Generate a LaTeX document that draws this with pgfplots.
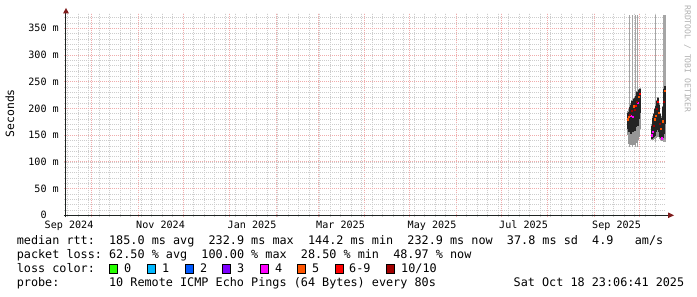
\documentclass[border=0pt]{standalone}
\usepackage{fontspec}
\setmainfont{DejaVu Sans Mono}
\setmonofont{DejaVu Sans Mono}
\usepackage{pgfplots}
\usepackage{pgfplotstable}
\pgfplotsset{compat=1.18}
\frenchspacing

\definecolor{minorgrid}{RGB}{205,205,205}
\definecolor{majorgrid}{RGB}{240,172,172}
\definecolor{axiscol}{RGB}{30,36,34}
\definecolor{arrowcol}{RGB}{127,29,29}
\definecolor{talllines}{RGB}{165,165,165}
\definecolor{smokelight}{RGB}{150,150,150}
\definecolor{smokedark}{RGB}{36,36,36}
\definecolor{loss0}{HTML}{26FF00}
\definecolor{loss1}{HTML}{00B8FF}
\definecolor{loss2}{HTML}{0059FF}
\definecolor{loss3}{HTML}{7E00FF}
\definecolor{loss4}{HTML}{FF00FF}
\definecolor{loss5}{HTML}{FF5500}
\definecolor{loss6}{HTML}{FF0000}
\definecolor{loss10}{HTML}{A10000}
\definecolor{wmark}{RGB}{176,176,176}

\newcommand{\fA}{\fontsize{10.1}{12}\selectfont}
\newcommand{\fL}{\fontsize{11.8}{14}\selectfont}
\newcommand{\fW}{\fontsize{8.1}{10}\selectfont}

% x = days since 1 Sep 2024
\pgfplotstableread{
x lo h
388.29 128 247
390.29 128 247
392.29 128 247
393.63 128 247
405.63 137 238
410.96 137 238
411.63 137 238
412.29 137 238
}\talltab

\pgfplotstableread{
x lo h
387.63 150 45
388.29 134 64
388.96 138 67
389.63 132 78
390.29 132 83
390.96 133 77
391.63 132 88
392.29 132 90
392.96 135 91
393.63 135 97
394.29 140 90
394.96 147 89
395.63 162 76
403.63 140 30
404.29 140 45
404.96 142 50
405.63 142 58
406.29 144 62
406.96 147 69
407.63 150 72
408.29 147 63
408.96 142 50
409.63 140 46
410.29 139 37
410.96 140 65
411.63 142 96
412.29 142 100
}\lighttab

\pgfplotstableread{
x lo h
387.63 162 30
388.29 156 38
388.96 160 42
389.63 153 54
390.29 158 56
390.96 155 53
391.63 160 58
392.29 158 62
392.96 165 59
393.63 170 60
394.29 168 60
394.96 180 54
395.63 192 44
403.63 143 24
404.29 145 38
404.96 147 42
405.63 149 50
406.29 155 49
406.96 160 54
407.63 164 56
408.29 155 52
408.96 147 42
409.63 145 38
410.29 141 32
410.96 145 58
411.63 152 85
412.29 170 72
}\darktab

\pgfplotstableread{
x y
389.63 186
390.96 185
394.29 210
403.63 150
404.29 156
410.29 144.2
}\medfour

\pgfplotstableread{
x y
387.63 180
388.29 184
391.63 204
394.96 222
405.63 180
406.29 187
408.29 192
409.63 162
410.96 176
412.29 232.9
}\medfive

\pgfplotstableread{
x y
392.96 205
395.63 228
407.63 212
}\medsix

\pgfplotstableread{
x y
388.96 188
390.29 195
392.29 198
393.63 212
404.96 168
406.96 200
408.96 172
411.63 212
}\medten

\begin{document}
\begin{tikzpicture}[x=1pt,y=1pt]
\useasboundingbox (0pt,0pt) rectangle (697pt,297pt);
\begin{axis}[
  at={(66pt,81.7pt)}, anchor=south west,
  scale only axis, width=600pt, height=202pt,
  xmin=12.96, xmax=412.96, ymin=0, ymax=378,
  axis lines*=left,
  separate axis lines,
  axis line style={draw=axiscol, line width=1pt},
  x axis line style={shorten >=-2.5pt, shorten <=-2pt},
  y axis line style={shorten <=-2pt},
  xtick={30,61,91,122,153,181,212,242,273,303,334,365,395},
  xticklabels={{},{},{},{},{},{},{},{},{},{},{},{},{}},
  minor xtick={14,21,...,406},
  extra x ticks={15,76,137,196,257,318,380},
  extra x tick labels={Sep 2024,Nov 2024,Jan 2025,Mar 2025,May 2025,Jul 2025,Sep 2025},
  extra x tick style={grid=none, major tick length=0pt},
  ytick={0,50,...,350},
  yticklabels={0\hphantom{~m},50~m,100~m,150~m,200~m,250~m,300~m,350~m},
  minor ytick={10,20,...,370},
  grid=both,
  major grid style={draw=majorgrid, line width=0.75pt, dash pattern=on 1pt off 1pt},
  minor grid style={draw=minorgrid, line width=0.65pt, dash pattern=on 1pt off 1pt},
  tick align=outside,
  major tick length=2pt, minor tick length=2pt,
  major tick style={draw=majorgrid, line width=0.75pt},
  minor tick style={draw=minorgrid, line width=0.65pt},
  ticklabel style={font=\fA, inner sep=0pt},
  xticklabel style={anchor=base, yshift=-13.5pt},
  yticklabel style={anchor=east, xshift=-5pt},
  ylabel={Seconds},
  every axis y label/.style={at={(rel axis cs:0,0.505)}, xshift=-56pt, rotate=90, anchor=center, font=\fontsize{11.4}{13}\selectfont},
]
\addplot[talllines, line width=0.9pt, quiver={u=0, v=\thisrow{h}}] table[x=x, y=lo] {\talltab};
\addplot[smokelight, line width=1.15pt, quiver={u=0, v=\thisrow{h}}] table[x=x, y=lo] {\lighttab};
\addplot[smokedark, line width=1.15pt, quiver={u=0, v=\thisrow{h}}] table[x=x, y=lo] {\darktab};
\addplot[only marks, mark=square*, mark size=0.6pt, color=loss4] table[x=x, y=y] {\medfour};
\addplot[only marks, mark=square*, mark size=0.6pt, color=loss5] table[x=x, y=y] {\medfive};
\addplot[only marks, mark=square*, mark size=0.6pt, color=loss6] table[x=x, y=y] {\medsix};
\addplot[only marks, mark=square*, mark size=0.6pt, color=loss10] table[x=x, y=y] {\medten};
\end{axis}

% axis arrow heads
\fill[arrowcol] (668pt,84.6pt) -- (674pt,81.7pt) -- (668pt,78.8pt) -- cycle;
\fill[arrowcol] (63.1pt,283.7pt) -- (66pt,289pt) -- (68.9pt,283.7pt) -- cycle;

\node[rotate=-90, font=\fW, text=wmark, inner sep=0pt] at (687.5pt,238pt) {RRDTOOL~/~TOBI~OETIKER};

\node[anchor=base west, inner sep=0pt, font=\fL] at (16.6pt,52pt) {median~rtt:~~185.0~ms~avg~~232.9~ms~max~~144.2~ms~min~~232.9~ms~now~~37.8~ms~sd~~4.9~~~am/s};
\node[anchor=base west, inner sep=0pt, font=\fL] at (16.6pt,38pt) {packet~loss:~62.50~\%~avg~~100.00~\%~max~~28.50~\%~min~~48.97~\%~now};
\node[anchor=base west, inner sep=0pt, font=\fL] at (16.6pt,24pt) {loss~color:};
\foreach \bx/\lx/\col/\lab in {109.3/124/loss0/0, 147/162/loss1/1, 185/200/loss2/2, 222/237/loss3/3, 260/275/loss4/4, 297/312/loss5/5, 335/349/loss6/6-9, 386/401/loss10/10\slash 10}{
  \filldraw[fill=\col, draw=black, line width=0.8pt] (\bx pt,24pt) rectangle ++(8.5pt,8.5pt);
  \node[anchor=base west, inner sep=0pt, font=\fL] at (\lx pt,24pt) {\lab};
}
\node[anchor=base west, inner sep=0pt, font=\fL] at (16.6pt,10pt) {probe:};
\node[anchor=base west, inner sep=0pt, font=\fL] at (108.9pt,10pt) {10~Remote~ICMP~Echo~Pings~(64~Bytes)~every~80s};
\node[anchor=base west, inner sep=0pt, font=\fL] at (513.5pt,10pt) {Sat~Oct~18~23:06:41~2025};
\end{tikzpicture}
\end{document}
